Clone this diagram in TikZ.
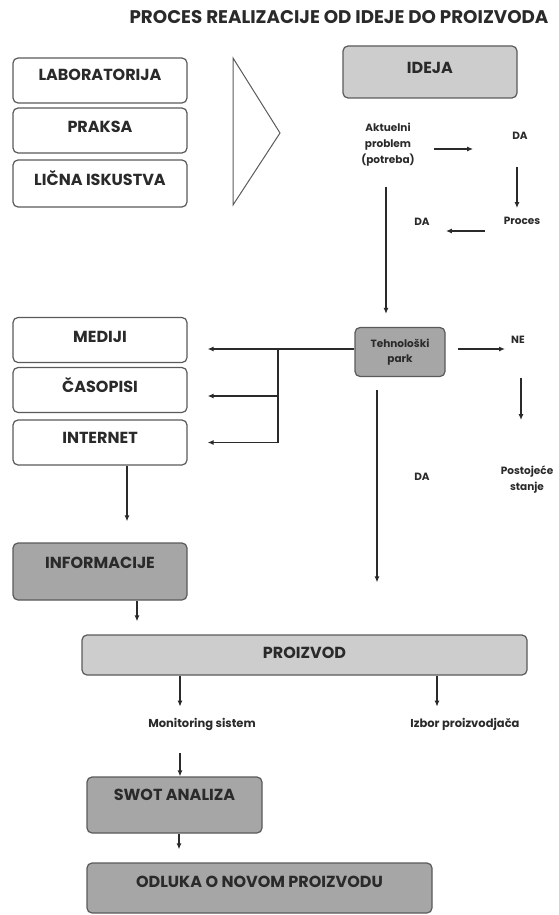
\documentclass[tikz,border=0pt]{standalone}
\usepackage{fontspec}
\setmainfont{Poppins}
\usepackage{tikz}
\usetikzlibrary{arrows.meta, positioning}
\usepackage{xcolor}

\definecolor{boxlight}{HTML}{CDCDCD}
\definecolor{boxdark}{HTML}{A6A6A6}
\definecolor{edge}{HTML}{5A5A5A}
\definecolor{ink}{HTML}{2A2A2A}

\begin{document}
\begin{tikzpicture}[
  x=1pt, y=-1pt,
  every node/.style={font=\bfseries\fontsize{16}{19}\selectfont, text=ink},
  box/.style={draw=edge, line width=1.2pt, rounded corners=5pt, align=center,
              minimum width=174pt, minimum height=45pt, inner sep=3pt, fill=white,
              text height=11.5pt, text depth=8pt},
  lightbox/.style={box, fill=boxlight},
  darkbox/.style={box, fill=boxdark},
  small/.style={font=\bfseries\fontsize{10.5}{16}\selectfont, inner sep=0pt, align=center},
  arr/.style={-{Latex[length=6pt,width=5pt]}, line width=1.2pt, draw=ink},
  wire/.style={line width=1.2pt, draw=ink}
]
  \useasboundingbox (0,0) rectangle (559,915);

  % ---- title ----
  \node[font=\bfseries\fontsize{18.3}{22}\selectfont] (title) at (339,17) {PROCES REALIZACIJE OD IDEJE DO PROIZVODA};

  % ---- sources of the idea (left column, top) ----
  \node[box, text depth=11pt]   (lab)    at (100,80.5)  {LABORATORIJA};
  \node[box]                    (praksa) at (100,130.5) {PRAKSA};
  \node[box, minimum height=47] (licna)  at (100,183.5) {LIČNA ISKUSTVA};
  \draw[line width=1pt, draw=edge] (233,58) -- (280,133) -- (233,205) -- cycle;

  % ---- idea and its checks (right column) ----
  \node[lightbox, minimum height=52] (ideja) at (430,72) {IDEJA};
  \node[small] (aktuelni)  at (388,145) {Aktuelni\\problem\\(potreba)};
  \node[small] (daA)       at (520,136) {DA};
  \node[small] (proces)    at (522,221) {Proces};
  \node[small] (daB)       at (422,222) {DA};

  % ---- technology park and its outcomes ----
  \node[darkbox, minimum width=90, minimum height=49,
        font=\bfseries\fontsize{10.5}{15}\selectfont, text height=, text depth=]
                            (tehno) at (400,352) {Tehnološki\\park};
  \node[small] (ne)        at (518,340) {NE};
  \node[small] (postojece) at (527,480) {Postojeće\\stanje};
  \node[small] (daC)       at (422,477) {DA};

  % ---- information sources (left column, middle) ----
  \node[box, text depth=6pt] (mediji)   at (100,340)   {MEDIJI};
  \node[box, text depth=6pt] (casopisi) at (100,390)   {ČASOPISI};
  \node[box, text depth=9pt] (internet) at (100,442.5) {INTERNET};
  \node[darkbox, minimum height=57, text depth=17pt]
                             (info)     at (100,571.5) {INFORMACIJE};

  % ---- product and decision ----
  \node[lightbox, minimum width=445, minimum height=40, text depth=4pt]
                             (proizvod) at (304.5,655) {PROIZVOD};
  \node[small, font=\bfseries\fontsize{11.5}{14}\selectfont] (monitor) at (202,724) {Monitoring sistem};
  \node[small, font=\bfseries\fontsize{11.5}{14}\selectfont] (izbor)   at (465,724) {Izbor proizvodjača};
  \node[darkbox, minimum width=175, minimum height=56, text depth=20pt]
                             (swot)     at (174.5,805) {SWOT ANALIZA};
  \node[darkbox, minimum width=345, minimum height=50, text depth=12pt]
                             (odluka)   at (259.5,888) {ODLUKA O NOVOM PROIZVODU};

  % ---- idea loop ----
  \draw[arr, shorten <=19, shorten >=39] ([yshift=-4]aktuelni.east) -- ([yshift=-4]aktuelni.east -| daA.west);
  \draw[arr, shorten <=27, shorten >=9]  ([xshift=-3]daA.south) -- ([xshift=-3]daA.south |- proces.north);
  \draw[arr, shorten <=19, shorten >=16] ([yshift=-10]proces.west) -- ([yshift=-10]proces.west -| daB.east);
  \draw[arr, shorten <=20, shorten >=13] ([xshift=-2]aktuelni.south) -- ([xshift=-2]aktuelni.south |- tehno.north);

  % ---- technology park branches ----
  \draw[arr, shorten <=12, shorten >=6]  ([yshift=3]tehno.east) -- ([yshift=3]tehno.east -| ne.west);
  \draw[arr, shorten <=34, shorten >=46] ([xshift=3]ne.south) -- ([xshift=3]ne.south |- postojece.north);
  \draw[arr, shorten <=13, shorten >=52] ([xshift=-23]tehno.south) -- ([xshift=-23]tehno.south |- proizvod.north);

  % ---- fan-out to media ----
  \coordinate (split) at (278,349);
  \draw[arr, shorten >=20] (tehno.west |- split) -- (split -| mediji.east);
  \draw[arr, shorten >=20] (split) |- ([yshift=-6]casopisi.east);
  \draw[arr, shorten >=20] (split) |- (internet.east);

  % ---- down the left side ----
  \draw[arr, shorten >=21] ([xshift=27]internet.south) -- ([xshift=27]internet.south |- info.north);
  \draw[arr, shorten >=13] ([xshift=37]info.south) -- ([xshift=37]info.south |- proizvod.north);

  % ---- product -> outcomes -> decision ----
  \draw[arr, shorten >=11] ([xshift=-22]monitor.north |- proizvod.south) -- ([xshift=-22]monitor.north);
  \draw[arr, shorten >=11] ([xshift=-28]izbor.north |- proizvod.south) -- ([xshift=-28]izbor.north);
  \draw[arr, shorten <=23] ([xshift=-22]monitor.south) -- ([xshift=-22]monitor.south |- swot.north);
  \draw[arr, shorten >=13] ([xshift=4.5]swot.south) -- ([xshift=4.5]swot.south |- odluka.north);
\end{tikzpicture}
\end{document}
